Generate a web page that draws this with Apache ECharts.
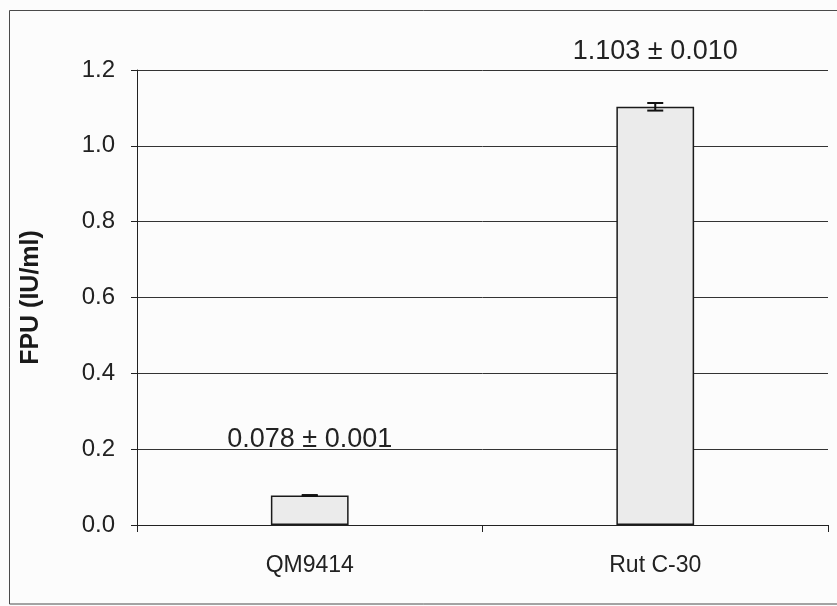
<!DOCTYPE html>
<html>
<head>
<meta charset="utf-8">
<script src="https://cdn.jsdelivr.net/npm/echarts@6/dist/echarts.min.js"></script>
<style>
  html, body { margin: 0; padding: 0; background: #fcfcfc; }
  #chart { width: 837px; height: 606px; }
</style>
</head>
<body>
<div id="chart"></div>
<script>
// Filter paper activity of the two Trichoderma strains
const strains = ['QM9414', 'Rut C-30'];
const fpuMean = [0.078, 1.103];
const fpuSd = [0.001, 0.010];
const yMin = 0;
const yMax = 1.2;
const yStep = 0.2;

const FONT = '"Liberation Sans", Arial, sans-serif';
const chart = echarts.init(document.getElementById('chart'));

const barData = fpuMean.map((v, i) => ({ value: v, sd: fpuSd[i] }));
const errData = fpuMean.map((v, i) => [i, v - fpuSd[i], v + fpuSd[i]]);

chart.setOption({
  backgroundColor: '#fcfcfc',
  animation: false,
  grid: { left: 137, right: 9, top: 70, bottom: 81, containLabel: false },
  graphic: [{
    type: 'rect',
    silent: true,
    shape: { x: 9.5, y: 10.5, width: 840, height: 593.5 },
    style: { fill: 'none', stroke: '#4a4a4a', lineWidth: 1 }
  }],
  xAxis: {
    type: 'category',
    data: strains,
    axisLine: { lineStyle: { color: '#222', width: 1 } },
    axisTick: { show: true, alignWithLabel: false, length: 7, lineStyle: { color: '#222' } },
    axisLabel: { color: '#222', fontFamily: FONT, fontSize: 23, margin: 29 }
  },
  yAxis: {
    type: 'value',
    min: yMin,
    max: yMax,
    interval: yStep,
    name: 'FPU (IU/ml)',
    nameLocation: 'middle',
    nameRotate: 90,
    nameGap: 93,
    nameTextStyle: { color: '#1a1a1a', fontFamily: FONT, fontSize: 25, fontWeight: 'bold' },
    axisLine: { show: true, lineStyle: { color: '#222', width: 1 } },
    axisTick: { show: true, length: 6, lineStyle: { color: '#222' } },
    axisLabel: {
      color: '#222', fontFamily: FONT, fontSize: 24, margin: 22,
      formatter: v => v.toFixed(1)
    },
    splitLine: { show: true, lineStyle: { color: '#333', width: 1 } }
  },
  series: [
    {
      type: 'bar',
      data: barData,
      barWidth: '22.5%',
      itemStyle: { color: '#ebebeb', borderColor: '#1a1a1a', borderWidth: 1.5 },
      label: {
        show: true,
        position: 'top',
        distance: 42,
        color: '#222',
        fontFamily: FONT,
        fontSize: 27,
        formatter: p => p.data.value.toFixed(3) + ' \u00b1 ' + p.data.sd.toFixed(3)
      },
      z: 2
    },
    {
      type: 'custom',
      data: errData,
      z: 3,
      renderItem: (params, api) => {
        const x = api.value(0);
        const lo = api.coord([x, api.value(1)]);
        const hi = api.coord([x, api.value(2)]);
        const half = 8;
        const style = { stroke: '#111', lineWidth: 2 };
        return {
          type: 'group',
          children: [
            { type: 'line', shape: { x1: lo[0], y1: lo[1], x2: hi[0], y2: hi[1] }, style },
            { type: 'line', shape: { x1: lo[0] - half, y1: lo[1], x2: lo[0] + half, y2: lo[1] }, style },
            { type: 'line', shape: { x1: hi[0] - half, y1: hi[1], x2: hi[0] + half, y2: hi[1] }, style }
          ]
        };
      }
    }
  ]
});
</script>
</body>
</html>
